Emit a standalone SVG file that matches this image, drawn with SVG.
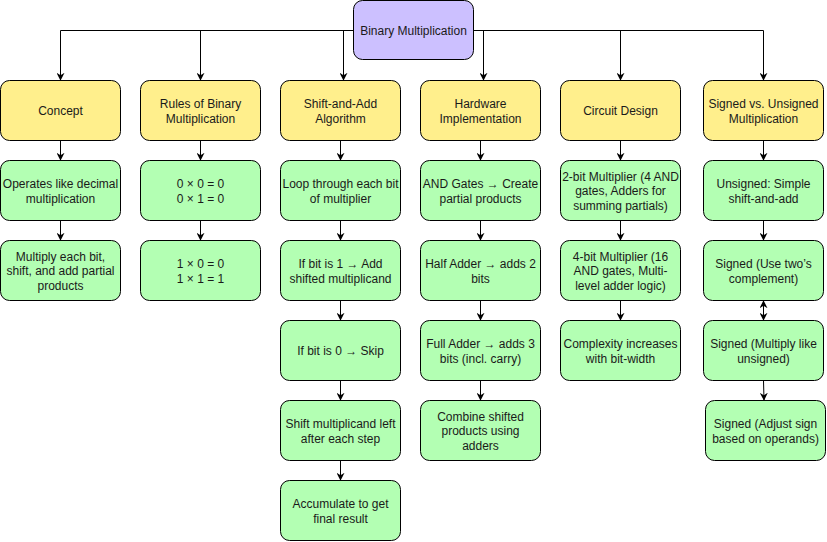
<svg xmlns="http://www.w3.org/2000/svg" width="827" height="542" viewBox="0 0 827 542">
<defs>
<style>
.box{stroke:#000;stroke-width:1}
.root{fill:#CCC0FF}
.cat{fill:#FFEF8C}
.leaf{fill:#B3FFB3}
text{font-family:"Liberation Sans",Arial,sans-serif;font-size:12px;fill:#1a1a1a;text-anchor:middle}
.edge{fill:none;stroke:#000;stroke-width:1}
</style>
<marker id="arr" viewBox="0 0 10 10" refX="9" refY="5" markerWidth="8" markerHeight="8" markerUnits="userSpaceOnUse" orient="auto-start-reverse">
<path d="M0,0 L10,5 L0,10 L3,5 Z" fill="#000"/>
</marker>
</defs>
<rect width="827" height="542" fill="#fff"/>

<g id="connectors">
<path class="edge" marker-end="url(#arr)" d="M353.5,30.5 H60.5 V80"/>
<path class="edge" marker-end="url(#arr)" d="M353.5,30.5 H200.5 V80"/>
<path class="edge" marker-end="url(#arr)" d="M353.5,30.5 H343.5 V80"/>
<path class="edge" marker-end="url(#arr)" d="M473.5,30.5 H483.5 V80"/>
<path class="edge" marker-end="url(#arr)" d="M473.5,30.5 H620.5 V80"/>
<path class="edge" marker-end="url(#arr)" d="M473.5,30.5 H763.5 V80"/>

<path class="edge" marker-end="url(#arr)" d="M60.5,140.5 V160"/>
<path class="edge" marker-end="url(#arr)" d="M60.5,220.5 V240"/>

<path class="edge" marker-end="url(#arr)" d="M200.5,140.5 V160"/>
<path class="edge" marker-end="url(#arr)" d="M200.5,220.5 V240"/>

<path class="edge" marker-end="url(#arr)" d="M340.5,140.5 V160"/>
<path class="edge" marker-end="url(#arr)" d="M340.5,220.5 V240"/>
<path class="edge" marker-end="url(#arr)" d="M340.5,300.5 V320"/>
<path class="edge" marker-end="url(#arr)" d="M340.5,380.5 V400"/>
<path class="edge" marker-end="url(#arr)" d="M340.5,460.5 V480"/>

<path class="edge" marker-end="url(#arr)" d="M480.5,140.5 V160"/>
<path class="edge" marker-end="url(#arr)" d="M480.5,220.5 V240"/>
<path class="edge" marker-end="url(#arr)" d="M480.5,300.5 V320"/>
<path class="edge" marker-end="url(#arr)" d="M480.5,380.5 V400"/>

<path class="edge" marker-end="url(#arr)" d="M620.5,140.5 V160"/>
<path class="edge" marker-end="url(#arr)" d="M620.5,220.5 V240"/>
<path class="edge" marker-end="url(#arr)" d="M620.5,300.5 V320"/>

<path class="edge" marker-end="url(#arr)" d="M763.5,140.5 V160"/>
<path class="edge" marker-end="url(#arr)" d="M763.5,220.5 V240"/>
<path class="edge" marker-start="url(#arr)" marker-end="url(#arr)" d="M763.5,301 V320"/>
<path class="edge" marker-end="url(#arr)" d="M763.5,380.5 L764,400"/>
</g>

<g id="root">
<rect class="box root" x="353.5" y="0.5" width="120" height="59" rx="9"/>
<text x="413.5" y="34.5">Binary Multiplication</text>
</g>

<g id="concept">
<rect class="box cat" x="0.5" y="80.5" width="120" height="60" rx="9"/>
<text x="60.5" y="114.5">Concept</text>
</g>
<g id="rules">
<rect class="box cat" x="140.5" y="80.5" width="120" height="60" rx="9"/>
<text x="200.5" y="107.5">Rules of Binary</text>
<text x="200.5" y="122.5">Multiplication</text>
</g>
<g id="shiftadd">
<rect class="box cat" x="280.5" y="80.5" width="120" height="60" rx="9"/>
<text x="340.5" y="107.5">Shift-and-Add</text>
<text x="340.5" y="122.5">Algorithm</text>
</g>
<g id="hardware">
<rect class="box cat" x="420.5" y="80.5" width="120" height="60" rx="9"/>
<text x="480.5" y="107.5">Hardware</text>
<text x="480.5" y="122.5">Implementation</text>
</g>
<g id="circuit">
<rect class="box cat" x="560.5" y="80.5" width="120" height="60" rx="9"/>
<text x="620.5" y="114.5">Circuit Design</text>
</g>
<g id="signed">
<rect class="box cat" x="703.5" y="80.5" width="120" height="60" rx="9"/>
<text x="763.5" y="107.5">Signed vs. Unsigned</text>
<text x="763.5" y="122.5">Multiplication</text>
</g>

<g id="c1">
<rect class="box leaf" x="0.5" y="160.5" width="120" height="60" rx="9"/>
<text x="60.5" y="187.5">Operates like decimal</text>
<text x="60.5" y="202.5">multiplication</text>
</g>
<g id="c2">
<rect class="box leaf" x="0.5" y="240.5" width="120" height="60" rx="9"/>
<text x="60.5" y="260.5">Multiply each bit,</text>
<text x="60.5" y="275">shift, and add partial</text>
<text x="60.5" y="289.5">products</text>
</g>

<g id="r1">
<rect class="box leaf" x="140.5" y="160.5" width="120" height="60" rx="9"/>
<text x="200.5" y="187.5">0 × 0 = 0</text>
<text x="200.5" y="202.5">0 × 1 = 0</text>
</g>
<g id="r2">
<rect class="box leaf" x="140.5" y="240.5" width="120" height="60" rx="9"/>
<text x="200.5" y="267.5">1 × 0 = 0</text>
<text x="200.5" y="282.5">1 × 1 = 1</text>
</g>

<g id="s1">
<rect class="box leaf" x="280.5" y="160.5" width="120" height="60" rx="9"/>
<text x="340.5" y="187.5">Loop through each bit</text>
<text x="340.5" y="202.5">of multiplier</text>
</g>
<g id="s2">
<rect class="box leaf" x="280.5" y="240.5" width="120" height="60" rx="9"/>
<text x="340.5" y="267.5">If bit is 1 → Add</text>
<text x="340.5" y="282.5">shifted multiplicand</text>
</g>
<g id="s3">
<rect class="box leaf" x="280.5" y="320.5" width="120" height="60" rx="9"/>
<text x="340.5" y="354.5">If bit is 0 → Skip</text>
</g>
<g id="s4">
<rect class="box leaf" x="280.5" y="400.5" width="120" height="60" rx="9"/>
<text x="340.5" y="427.5">Shift multiplicand left</text>
<text x="340.5" y="442.5">after each step</text>
</g>
<g id="s5">
<rect class="box leaf" x="280.5" y="480.5" width="120" height="60" rx="9"/>
<text x="340.5" y="507.5">Accumulate to get</text>
<text x="340.5" y="522.5">final result</text>
</g>

<g id="h1">
<rect class="box leaf" x="420.5" y="160.5" width="120" height="60" rx="9"/>
<text x="480.5" y="187.5">AND Gates → Create</text>
<text x="480.5" y="202.5">partial products</text>
</g>
<g id="h2">
<rect class="box leaf" x="420.5" y="240.5" width="120" height="60" rx="9"/>
<text x="480.5" y="267.5">Half Adder → adds 2</text>
<text x="480.5" y="282.5">bits</text>
</g>
<g id="h3">
<rect class="box leaf" x="420.5" y="320.5" width="120" height="60" rx="9"/>
<text x="480.5" y="347.5">Full Adder → adds 3</text>
<text x="480.5" y="362.5">bits (incl. carry)</text>
</g>
<g id="h4">
<rect class="box leaf" x="420.5" y="400.5" width="120" height="60" rx="9"/>
<text x="480.5" y="420.5">Combine shifted</text>
<text x="480.5" y="435">products using</text>
<text x="480.5" y="449.5">adders</text>
</g>

<g id="d1">
<rect class="box leaf" x="560.5" y="160.5" width="120" height="60" rx="9"/>
<text x="620.5" y="180.5">2-bit Multiplier (4 AND</text>
<text x="620.5" y="195">gates, Adders for</text>
<text x="620.5" y="209.5">summing partials)</text>
</g>
<g id="d2">
<rect class="box leaf" x="560.5" y="240.5" width="120" height="60" rx="9"/>
<text x="620.5" y="260.5">4-bit Multiplier (16</text>
<text x="620.5" y="275">AND gates, Multi-</text>
<text x="620.5" y="289.5">level adder logic)</text>
</g>
<g id="d3">
<rect class="box leaf" x="560.5" y="320.5" width="120" height="60" rx="9"/>
<text x="620.5" y="347.5">Complexity increases</text>
<text x="620.5" y="362.5">with bit-width</text>
</g>

<g id="u1">
<rect class="box leaf" x="703.5" y="160.5" width="120" height="60" rx="9"/>
<text x="763.5" y="187.5">Unsigned: Simple</text>
<text x="763.5" y="202.5">shift-and-add</text>
</g>
<g id="u2">
<rect class="box leaf" x="703.5" y="240.5" width="120" height="60" rx="9"/>
<text x="763.5" y="267.5">Signed (Use two’s</text>
<text x="763.5" y="282.5">complement)</text>
</g>
<g id="u3">
<rect class="box leaf" x="703.5" y="320.5" width="120" height="60" rx="9"/>
<text x="763.5" y="347.5">Signed (Multiply like</text>
<text x="763.5" y="362.5">unsigned)</text>
</g>
<g id="u4">
<rect class="box leaf" x="705.5" y="400.5" width="120" height="60" rx="9"/>
<text x="765.5" y="427.5">Signed (Adjust sign</text>
<text x="765.5" y="442.5">based on operands)</text>
</g>
</svg>
